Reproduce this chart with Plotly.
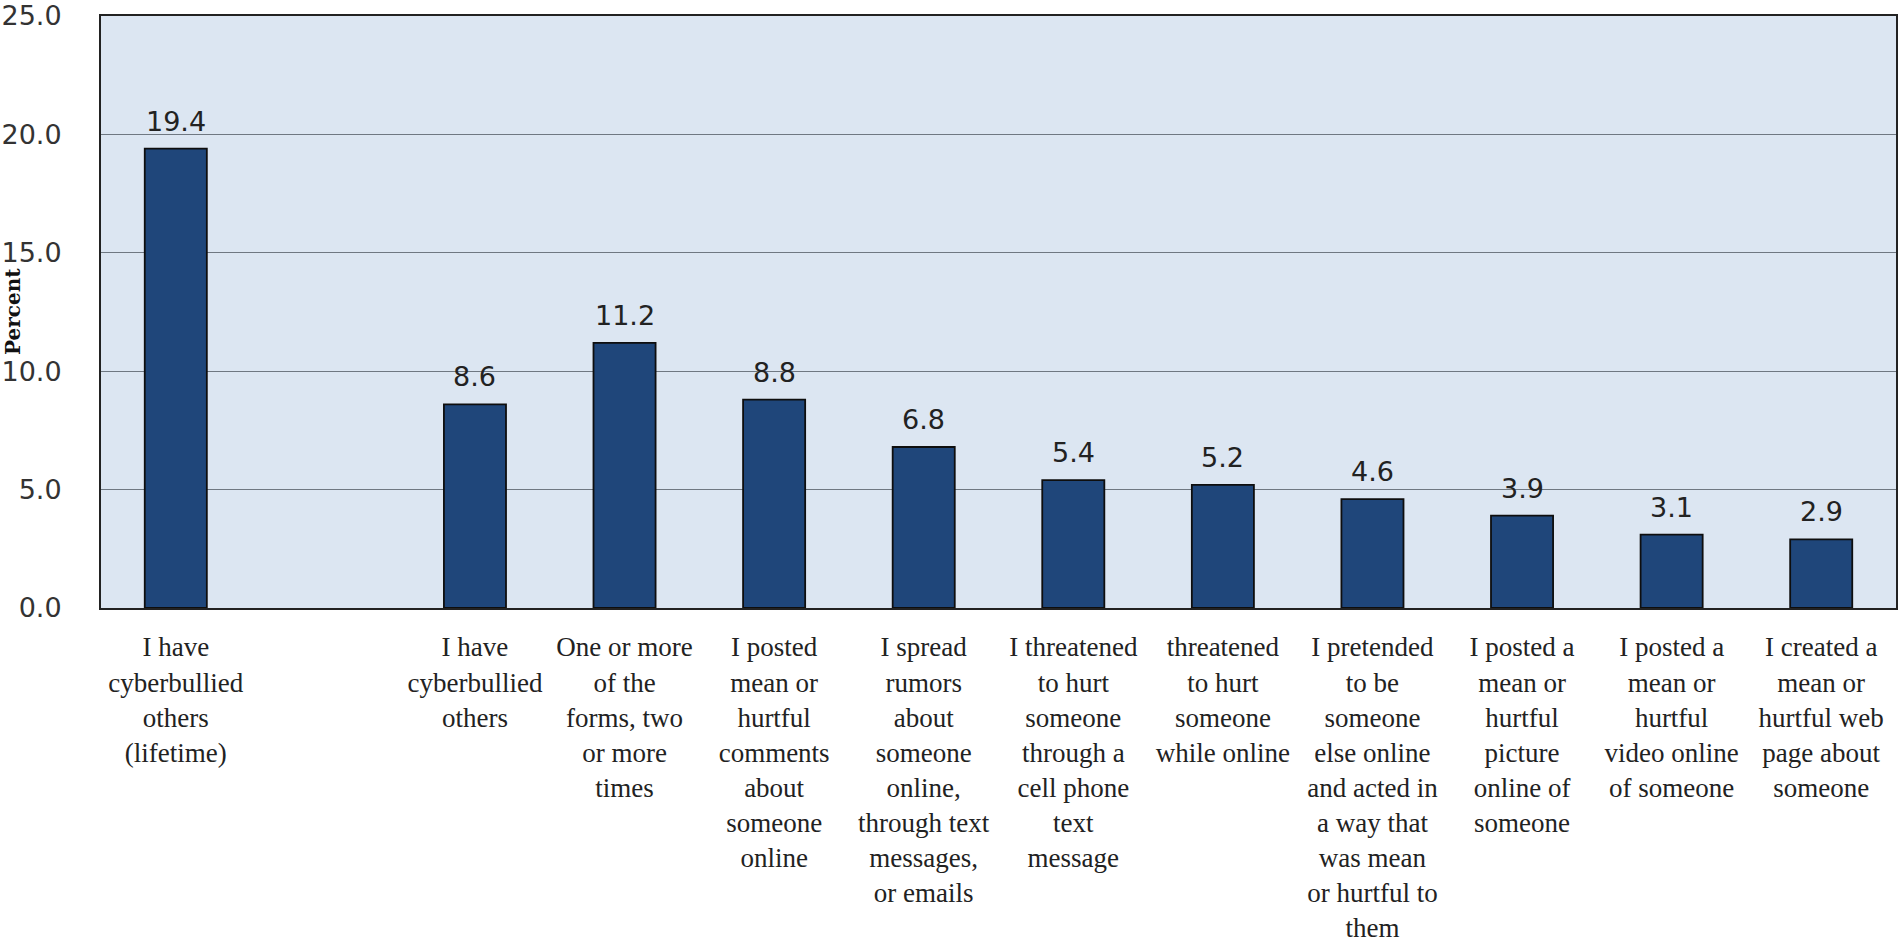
import plotly.graph_objects as go

# Survey items (a blank slot separates the lifetime item from the rest)
categories = [
    "I have<br>cyberbullied<br>others<br>(lifetime)",
    " ",
    "I have<br>cyberbullied<br>others",
    "One or more<br>of the<br>forms, two<br>or more<br>times",
    "I posted<br>mean or<br>hurtful<br>comments<br>about<br>someone<br>online",
    "I spread<br>rumors<br>about<br>someone<br>online,<br>through text<br>messages,<br>or emails",
    "I threatened<br>to hurt<br>someone<br>through a<br>cell phone<br>text<br>message",
    "threatened<br>to hurt<br>someone<br>while online",
    "I pretended<br>to be<br>someone<br>else online<br>and acted in<br>a way that<br>was mean<br>or hurtful to<br>them",
    "I posted a<br>mean or<br>hurtful<br>picture<br>online of<br>someone",
    "I posted a<br>mean or<br>hurtful<br>video online<br>of someone",
    "I created a<br>mean or<br>hurtful web<br>page about<br>someone",
]
percent = [19.4, None, 8.6, 11.2, 8.8, 6.8, 5.4, 5.2, 4.6, 3.9, 3.1, 2.9]

y_ticks = [0, 5, 10, 15, 20, 25]

fig = go.Figure()
fig.add_trace(go.Bar(
    x=categories,
    y=percent,
    marker=dict(color="#1F467A", line=dict(color="#0E0E0E", width=1.8)),
    width=0.415,
    hoverinfo="x+y",
))

# value labels above each bar
for cat, val in zip(categories, percent):
    if val is None:
        continue
    fig.add_annotation(
        x=cat, y=val, text=f"{val:.1f}", showarrow=False,
        xref="x", yref="y", yanchor="bottom", yshift=10,
        font=dict(family="DejaVu Sans", size=27, color="#222222"),
    )

# rotated axis title sitting beside the tick labels
fig.add_annotation(
    text="<b>Percent</b>", textangle=-90, showarrow=False,
    xref="paper", yref="paper", x=0, y=0.5, xanchor="center", yanchor="middle",
    xshift=-88,
    font=dict(family="DejaVu Serif", size=20, color="#111111"),
)

fig.update_layout(
    width=1903, height=944,
    margin=dict(l=101, r=7, t=16, b=336, autoexpand=False),
    paper_bgcolor="white",
    plot_bgcolor="#DCE6F2",
    showlegend=False,
    bargap=0.585,
)
fig.update_xaxes(
    type="category",
    automargin=False,
    showline=True, linecolor="#222222", linewidth=2, mirror=True,
    showgrid=False, ticks="",
    tickfont=dict(family="Liberation Serif", size=27, color="#222222"),
    tickangle=0,
    ticklabelstandoff=14,
)
fig.update_yaxes(
    range=[0, 25],
    automargin=False,
    tickvals=y_ticks,
    tickformat=".1f",
    showline=True, linecolor="#222222", linewidth=2, mirror=True,
    showgrid=True, gridcolor="#6F7882", gridwidth=1.3,
    zeroline=False, ticks="",
    tickfont=dict(family="DejaVu Sans", size=27, color="#333333"),
    ticklabelstandoff=32,
)

fig.write_html("out.html")
